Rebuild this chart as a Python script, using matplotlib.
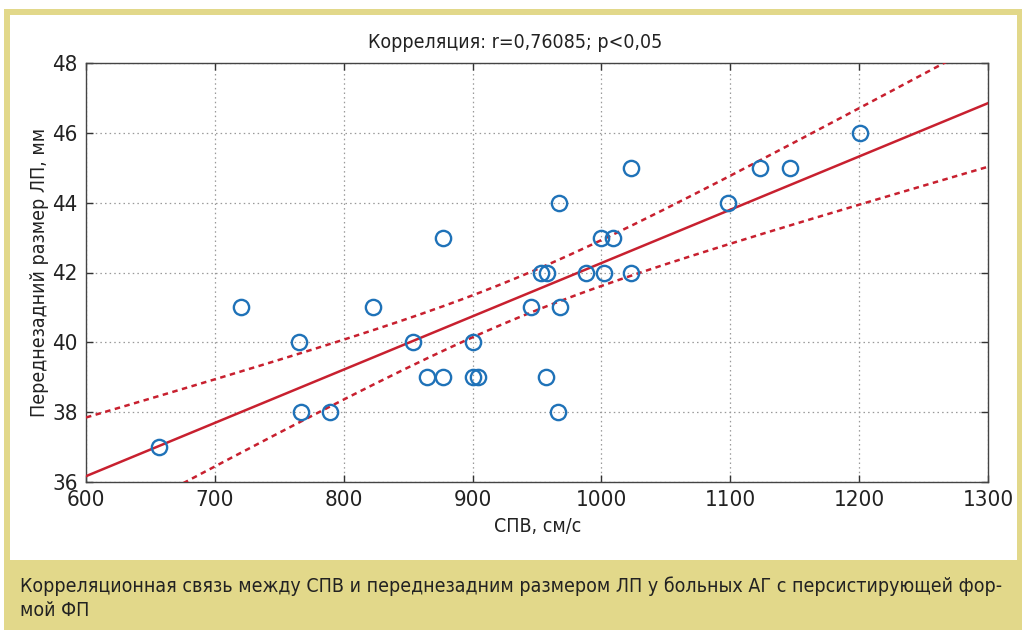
import numpy as np
import matplotlib
matplotlib.use("Agg")
import matplotlib.pyplot as plt
from matplotlib.patches import Rectangle
from matplotlib import font_manager

# ---- data ----
spv = [657, 720, 765, 767, 789, 823, 854, 865, 877, 877, 900, 900, 904,
       945, 953, 958, 957, 966, 967, 968, 988, 1000, 1002, 1009, 1023,
       1023, 1098, 1123, 1146, 1201]
lp = [37, 41, 40, 38, 38, 41, 40, 39, 39, 43, 40, 39, 39,
      41, 42, 42, 39, 38, 44, 41, 42, 43, 42, 43, 45,
      42, 44, 45, 45, 46]
x_ticks = [600, 700, 800, 900, 1000, 1100, 1200, 1300]
y_ticks = [36, 38, 40, 42, 44, 46, 48]
title = "Корреляция: r=0,76085; p<0,05"
xlabel = "СПВ, см/с"
ylabel = "Переднезадний размер ЛП, мм"
caption1 = "Корреляционная связь между СПВ и переднезадним размером ЛП у больных АГ с персистирующей фор-"
caption2 = "мой ФП"

cond = [f for f in font_manager.fontManager.ttflist if f.name == "DejaVu Sans" and "ondensed" in f.fname]
if cond:
    plt.rcParams['font.family'] = ['DejaVu Sans']
    plt.rcParams['font.stretch'] = 'condensed'
    FS = 14
else:
    plt.rcParams['font.family'] = ['Liberation Sans', 'DejaVu Sans']
    FS = 13

YEL = "#e2d88a"
fig = plt.figure(figsize=(10.23, 6.30), dpi=100)
fig.patch.set_facecolor("white")
W, H = 1023, 630
def fx(px): return px / W
def fy(py): return 1 - py / H
fig.patches.append(Rectangle((fx(4), fy(630)), fx(1022) - fx(4), fy(9) - fy(630),
                             transform=fig.transFigure, facecolor=YEL, edgecolor="none", zorder=-2))
fig.patches.append(Rectangle((fx(10), fy(560)), fx(1017) - fx(10), fy(15) - fy(560),
                             transform=fig.transFigure, facecolor="white", edgecolor="none", zorder=-1))

ax = fig.add_axes([fx(86), fy(482), fx(988) - fx(86), fy(63) - fy(482)])
ax.set_zorder(2)
ax.set_facecolor("white")

x = np.array(spv, float)
y = np.array(lp, float)
n = len(x)
b, a = np.polyfit(x, y, 1)
xx = np.linspace(600, 1300, 200)
yy = a + b * xx
res = y - (a + b * x)
s = np.sqrt(np.sum(res ** 2) / (n - 2))
sxx = np.sum((x - x.mean()) ** 2)
t = 2.048
ci = t * s * np.sqrt(1 / n + (xx - x.mean()) ** 2 / sxx)

RED = "#c8202f"
ax.plot(xx, yy, color=RED, lw=1.8, zorder=3)
ax.plot(xx, yy + ci, color=RED, lw=1.8, ls=(0, (2.2, 1.8)), zorder=3)
ax.plot(xx, yy - ci, color=RED, lw=1.8, ls=(0, (2.2, 1.8)), zorder=3)
ax.plot(x, y, 'o', mfc="none", mec="#1f72b8", mew=1.7, ms=11, zorder=4)

ax.set_xlim(600, 1300)
ax.set_ylim(36, 48)
ax.set_xticks(x_ticks)
ax.set_yticks(y_ticks)
ax.grid(True, ls=(0, (1.2, 2.5)), color="#999999", lw=0.9)
ax.tick_params(direction="in", top=True, right=True, length=5, width=1, colors="#333333",
               labelsize=FS + 2, labelcolor="#222222")
ax.tick_params(axis="x", pad=6)
ax.tick_params(axis="y", pad=6)
for sp in ax.spines.values():
    sp.set_color("#444444")
    sp.set_linewidth(1.0)

fig.text(fx(515), fy(43), title, ha="center", va="center", fontsize=FS, color="#222222")
fig.text(fx(538), fy(527), xlabel, ha="center", va="center", fontsize=FS, color="#222222")
fig.text(fx(40), fy(272), ylabel, ha="center", va="center", rotation=90, fontsize=FS, color="#222222")
fig.text(fx(20), fy(586), caption1, ha="left", va="center", fontsize=FS, color="#222222")
fig.text(fx(20), fy(611), caption2, ha="left", va="center", fontsize=FS, color="#222222")

fig.savefig("out.png", dpi=100, facecolor=fig.get_facecolor())
